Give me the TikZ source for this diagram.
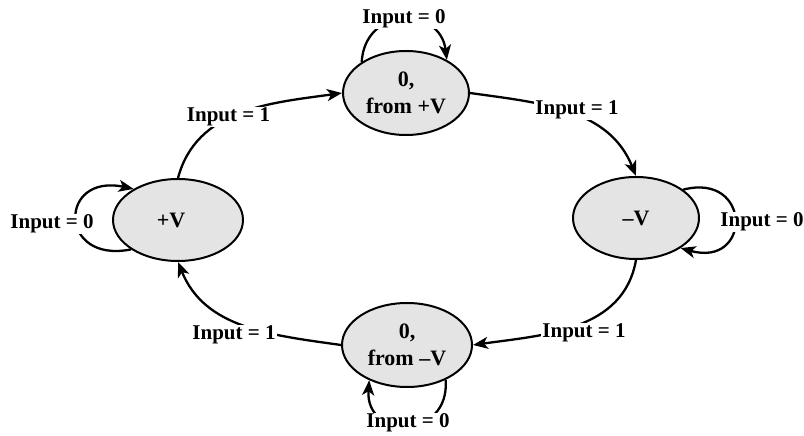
\documentclass[tikz,border=0pt]{standalone}
\usepackage{fontspec}
\setmainfont{Liberation Serif}
\usetikzlibrary{shapes.geometric,arrows.meta}
\definecolor{stfill}{RGB}{228,228,228}
\begin{document}
\begin{tikzpicture}[x=1pt,y=1pt,
  state/.style={ellipse, draw=black, line width=2pt, fill=stfill, inner sep=0pt, align=center, font=\fontsize{22}{27}\selectfont\bfseries},
  lab/.style={fill=white, inner sep=1pt, anchor=base, font=\fontsize{21}{24}\selectfont\bfseries},
  conn/.style={line width=2.3pt, -{Stealth[length=15pt,width=12pt,inset=4pt]}},
]
\useasboundingbox (0,0) rectangle (804,436);
\node[state, minimum width=126pt, minimum height=84pt] (top) at (406,343) {0,\\from +V};
\node[state, minimum width=130pt, minimum height=82pt] (plusV) at (178,216) {\raisebox{-6pt}{\kern-7pt+V\kern7pt}};
\node[state, minimum width=126pt, minimum height=82pt] (minusV) at (636,218) {\raisebox{-4pt}{–V}};
\node[state, minimum width=130pt, minimum height=84pt] (bottom) at (407,91) {0,\\from –V};

\draw[conn] (plusV.north) to[out=75,in=188] (top.west);
\draw[conn] (top.east) to[out=-8,in=112] (minusV.north);
\draw[conn] (minusV.south) to[out=-100,in=8] (bottom.east);
\draw[conn] (bottom.west) to[out=172,in=-68] (plusV.south);

\draw[conn] (top.145) .. controls (365,430) and (440,430) .. (top.39);
\draw[conn] (plusV.212) .. controls (58,172) and (58,263) .. (plusV.145);
\draw[conn] (minusV.31) .. controls (752,264) and (752,168) .. (minusV.-34);
\draw[conn] (bottom.-42) .. controls (450,-4) and (365,-4) .. (bottom.-137);

\node[lab] (l0top) at (404,412) {Input = 0};
\node[lab] (l1tl) at (228.5,314) {Input = 1};
\node[lab] (l1tr) at (577,321) {Input = 1};
\node[lab] (l0l) at (52,207) {Input = 0};
\node[lab] (l0r) at (762,209) {Input = 0};
\node[lab] (l1bl) at (234,96) {Input = 1};
\node[lab] (l1br) at (584,98) {Input = 1};
\node[lab] (l0b) at (408,8) {Input = 0};
\end{tikzpicture}
\end{document}
